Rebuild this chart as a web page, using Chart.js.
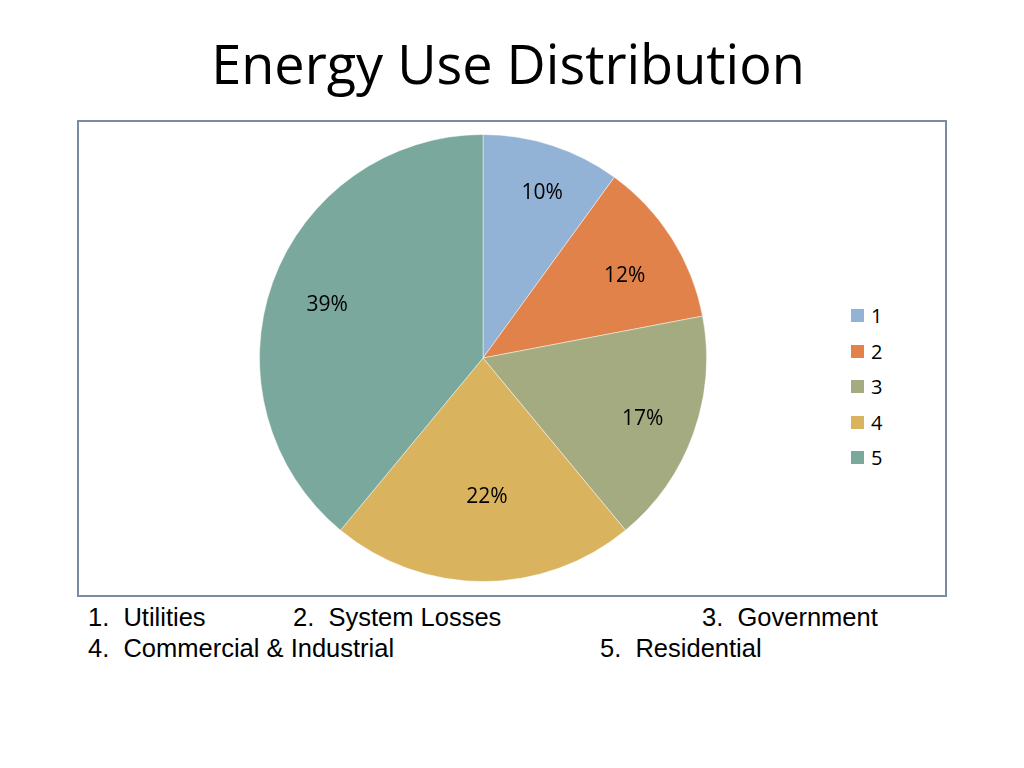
<!DOCTYPE html>
<html>
<head>
<meta charset="utf-8">
<script src="https://cdn.jsdelivr.net/npm/chart.js@4"></script>
<style>
  html, body { margin: 0; padding: 0; background: #fff; }
  body { width: 1024px; height: 768px; position: relative; overflow: hidden; font-family: 'Open Sans', sans-serif; }
  #title { position: absolute; left: 0; width: 1016px; top: 26px; text-align: center; font-size: 54px; color: #000; white-space: nowrap; }
  #frame { position: absolute; left: 77px; top: 120px; width: 866px; height: 473px; border: 2px solid #7a8aa0; }
  #pie-wrap { position: absolute; left: 259px; top: 134px; width: 448px; height: 448px; }
  #legend { position: absolute; left: 851px; top: 298px; font-family: 'Open Sans', sans-serif; font-size: 20px; }
  #legend div { height: 35.5px; display: flex; align-items: center; }
  #legend span.box { display: inline-block; width: 13px; height: 13px; margin-right: 7px; }
  .note { position: absolute; font-family: 'Liberation Sans', Arial, sans-serif; font-size: 25.5px; white-space: pre; color: #000; }
</style>
</head>
<body>
<div id="title">Energy Use Distribution</div>
<div id="frame"></div>
<div id="pie-wrap"><canvas id="pie"></canvas></div>
<div id="legend"></div>
<div class="note" style="left:88px; top:603px">1.  Utilities</div>
<div class="note" style="left:293px; top:603px">2.  System Losses</div>
<div class="note" style="left:702px; top:603px">3.  Government</div>
<div class="note" style="left:88px; top:634px">4.  Commercial &amp; Industrial</div>
<div class="note" style="left:600px; top:634px">5.  Residential</div>

<script>
// categories and shares (percent)
const labels = ['1', '2', '3', '4', '5'];
const shares = [10, 12, 17, 22, 39];
const colors = ['#93b3d6', '#e0824a', '#a5ab80', '#d9b35e', '#7aa89d'];
// how far out each % label sits, as a fraction of the radius
const labelPos = [0.8, 0.73, 0.74, 0.6, 0.76];

function el(id) { return document.getElementById(id); }

// legend, built from the same arrays
el('legend').innerHTML = labels.map((l, i) =>
  `<div><span class="box" style="background:${colors[i]}"></span>${l}</div>`).join('');

const pctLabels = {
  id: 'pctLabels',
  afterDatasetsDraw(chart) {
    const ctx = chart.ctx;
    const arcs = chart.getDatasetMeta(0).data;
    ctx.save();
    ctx.font = "21px 'Open Sans', sans-serif";
    ctx.fillStyle = '#000';
    ctx.textAlign = 'center';
    ctx.textBaseline = 'middle';
    arcs.forEach((a, i) => {
      const p = a.getProps(['x', 'y', 'startAngle', 'endAngle', 'outerRadius'], true);
      const mid = (p.startAngle + p.endAngle) / 2;
      const r = p.outerRadius * labelPos[i];
      // labels sit a touch low and right in the original
      ctx.fillText(shares[i] + '%', p.x + Math.cos(mid) * r + 4, p.y + Math.sin(mid) * r + 5);
    });
    ctx.restore();
  }
};

new Chart(el('pie'), {
  type: 'pie',
  data: {
    labels,
    datasets: [{
      data: shares,
      backgroundColor: colors,
      borderColor: 'rgba(255,255,255,0.45)',
      borderWidth: 1,
    }]
  },
  options: {
    responsive: true,
    maintainAspectRatio: false,
    animation: false,
    layout: { padding: 0 },
    plugins: { legend: { display: false }, tooltip: { enabled: false } }
  },
  plugins: [pctLabels]
});
</script>
</body>
</html>
